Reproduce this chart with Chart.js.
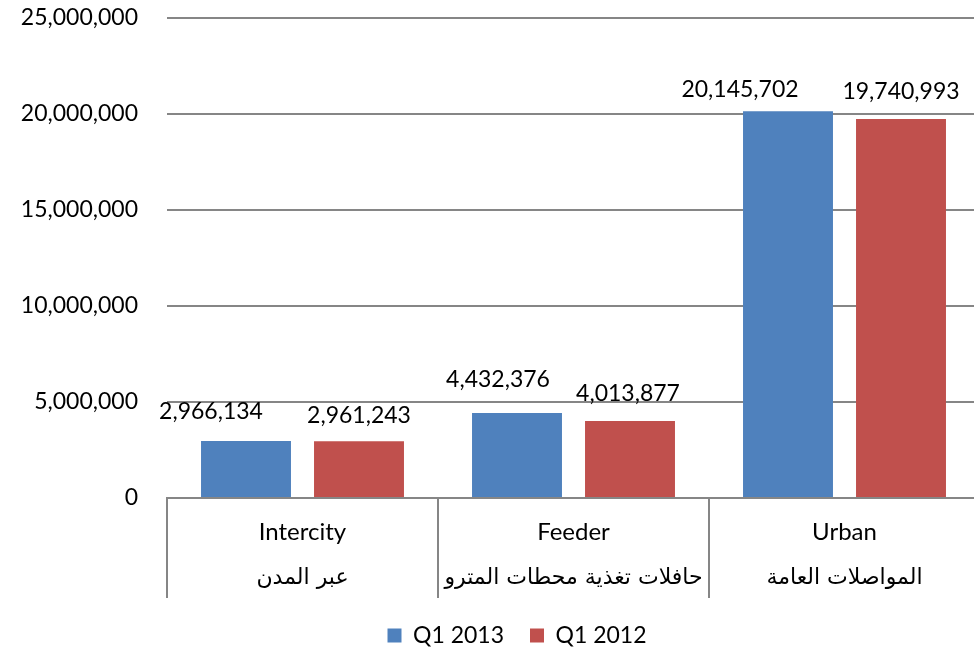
<!DOCTYPE html>
<html><head><meta charset="utf-8">
<script src="https://cdn.jsdelivr.net/npm/chart.js@4"></script>
<style>html,body{margin:0;padding:0;overflow:hidden;background:#fff;width:974px;height:650px}</style>
</head><body>
<canvas id="c" width="980" height="657" style="width:980px;height:657px;display:block"></canvas>
<script>
const categoriesEn = ['Intercity', 'Feeder', 'Urban'];
const categoriesAr = ['عبر المدن', 'حافلات تغذية محطات المترو', 'المواصلات العامة'];
const seriesNames = ['Q1 2013', 'Q1 2012'];
const q1_2013 = [2966134, 4432376, 20145702];
const q1_2012 = [2961243, 4013877, 19740993];
const yMin = 0, yMax = 25000000, yStep = 5000000;

const FONT = "Lato, 'DejaVu Sans', sans-serif";
const AR_FONT = "'DejaVu Sans', sans-serif";
const fmt = v => Number(v).toLocaleString('en-US');

const valueLabels = {
  id: 'valueLabels',
  afterDatasetsDraw(chart, args, opts) {
    const ctx = chart.ctx;
    ctx.save();
    ctx.font = '23px ' + FONT;
    ctx.fillStyle = '#000';
    ctx.textAlign = 'center';
    ctx.textBaseline = 'middle';
    chart.data.datasets.forEach((ds, di) => {
      const meta = chart.getDatasetMeta(di);
      meta.data.forEach((el, i) => {
        const off = opts.offsets[di][i];
        ctx.fillText(fmt(ds.data[i]), el.x + off[0], el.y + off[1]);
      });
    });
    ctx.restore();
  }
};

// second (Arabic) line of each category label, placed under the English one
const arabicLabels = {
  id: 'arabicLabels',
  afterDraw(chart, args, opts) {
    const sx = chart.scales.x;
    const ctx = chart.ctx;
    ctx.save();
    ctx.font = opts.size + 'px ' + AR_FONT;
    ctx.fillStyle = '#000';
    ctx.textAlign = 'center';
    ctx.textBaseline = 'middle';
    categoriesAr.forEach((t, i) => {
      ctx.fillText(t, sx.getPixelForTick(i), sx.top + opts.dy);
    });
    ctx.restore();
  }
};

const legendShift = {
  id: 'legendShift',
  afterLayout(chart, args, opts) {
    if (chart.legend) {
      chart.legend.left += opts.dx;
      chart.legend.right += opts.dx;
    }
  }
};

new Chart(document.getElementById('c'), {
  type: 'bar',
  data: {
    labels: categoriesEn,
    datasets: [
      { label: seriesNames[0], data: q1_2013, backgroundColor: '#4F81BD', borderWidth: 0,
        categoryPercentage: 0.834, barPercentage: 0.796 },
      { label: seriesNames[1], data: q1_2012, backgroundColor: '#C0504D', borderWidth: 0,
        categoryPercentage: 0.834, barPercentage: 0.796 }
    ]
  },
  options: {
    responsive: false,
    animation: false,
    devicePixelRatio: 1,
    layout: { padding: { top: 18, left: 18, right: 0, bottom: 0 } },
    font: { family: FONT },
    plugins: {
      legend: {
        position: 'bottom',
        labels: { boxWidth: 14, boxHeight: 14, padding: 26, color: '#000',
                  font: { family: FONT, size: 23 } }
      },
      tooltip: { enabled: false },
      legendShift: { dx: 18 },
      arabicLabels: { size: 22, dy: 80 },
      valueLabels: {
        offsets: [
          [[-35, -29], [-19, -33], [-48, -22]],
          [[0, -26], [-2, -27], [0, -27]]
        ]
      }
    },
    scales: {
      x: {
        offset: true,
        grid: { drawOnChartArea: false, drawTicks: true, tickLength: 100, color: '#868686', lineWidth: 2, offset: true },
        border: { display: true, color: '#868686', width: 2 },
        ticks: { color: '#000', padding: -89, maxRotation: 0, autoSkip: false,
                 font: { family: FONT, size: 24, lineHeight: '46px' } },
        afterFit(scale) { scale.height = 100; }
      },
      y: {
        min: yMin, max: yMax,
        grid: { color: '#868686', lineWidth: 2, drawTicks: false },
        border: { display: false },
        ticks: { stepSize: yStep, color: '#000', padding: 29,
                 font: { family: FONT, size: 23 }, callback: v => fmt(v) },
        afterFit(scale) { scale.width = 149; scale.paddingTop = 0; scale.paddingBottom = 0; }
      }
    }
  },
  plugins: [valueLabels, arabicLabels, legendShift]
});
</script>
</body></html>
